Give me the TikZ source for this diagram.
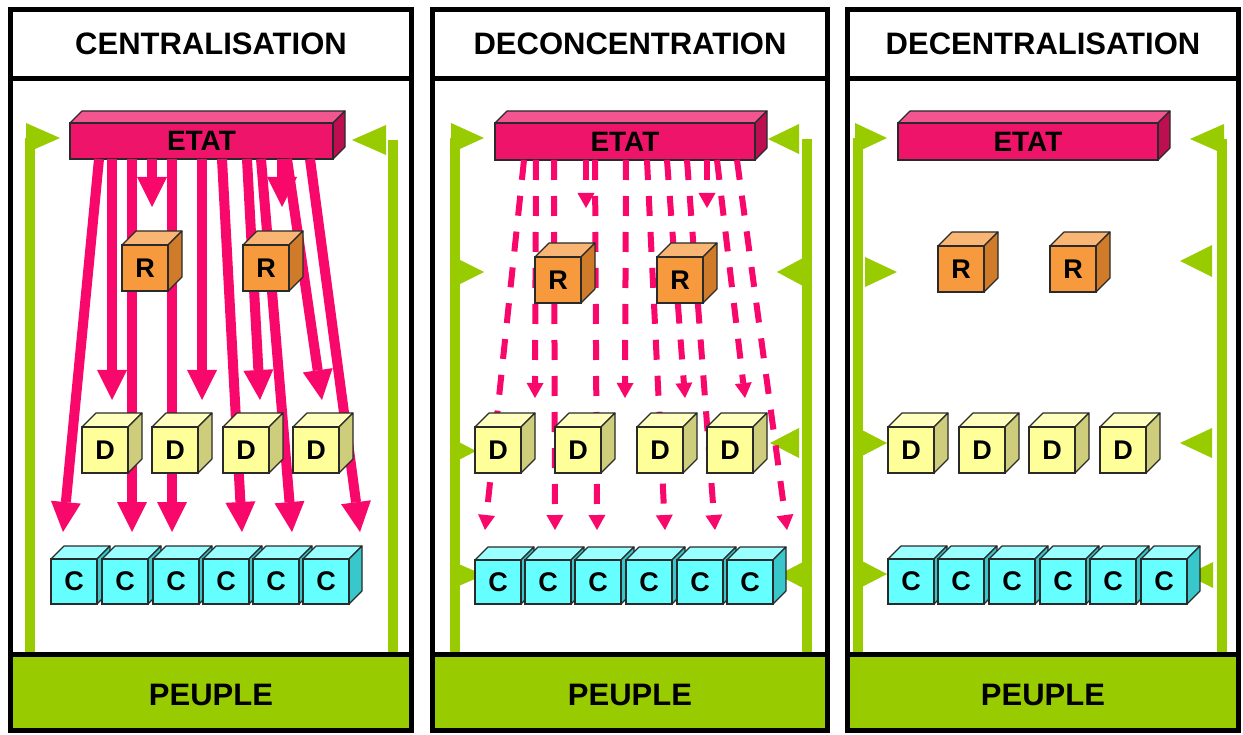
\documentclass[tikz,border=0pt]{standalone}
\usepackage{fontspec}
\setmainfont{Liberation Sans}
\usetikzlibrary{arrows.meta}

\definecolor{peuplegreen}{HTML}{99CC00}
\definecolor{arrowpink}{HTML}{F7086A}
\definecolor{etatfront}{HTML}{EE1469}
\definecolor{etattop}{HTML}{F25590}
\definecolor{etatside}{HTML}{BC0E50}
\definecolor{rfront}{HTML}{F79A3E}
\definecolor{rtop}{HTML}{F8B574}
\definecolor{rside}{HTML}{D07B2A}
\definecolor{dfront}{HTML}{FFFF99}
\definecolor{dtop}{HTML}{FFFFBE}
\definecolor{dside}{HTML}{CDCD7C}
\definecolor{cfront}{HTML}{66FFFF}
\definecolor{ctop}{HTML}{99FFFF}
\definecolor{cside}{HTML}{38C8CC}
\definecolor{edge}{HTML}{2A2A2A}

% #1 name, #2 x, #3 y (front top-left), #4 width, #5 height,
% #6 depth, #7 colour prefix, #8 label
\newcommand\solidbox[8]{%
  \filldraw[fill=#7top, draw=edge, line width=1.1pt, line join=round]
    (#2,#3) -- ++(#6,-#6) -- ++(#4,0) -- ++(-#6,#6) -- cycle;
  \filldraw[fill=#7side, draw=edge, line width=1.1pt, line join=round]
    (#2+#4,#3) -- ++(#6,-#6) -- ++(0,#5) -- ++(-#6,#6) -- cycle;
  \node[solidface, fill=#7front, minimum width=#4pt, minimum height=#5pt,
        anchor=north west] (#1) at (#2,#3) {#8};
}

% green feedback arrowhead: base x, tip x, centre y, half height
\newcommand\feedtip[4]{%
  \fill[peuplegreen] (#1,#3-#4) -- (#2,#3) -- (#1,#3+#4) -- cycle;
}

\begin{document}
\begin{tikzpicture}[x=1pt,y=-1pt,
  frame/.style={draw=black, line width=5pt},
  title/.style={font=\fontsize{31}{31}\selectfont\bfseries, text=black, inner sep=0pt},
  solidface/.style={draw=edge, line width=1.1pt, inner sep=0pt, outer sep=0pt,
    font=\fontsize{27}{27}\selectfont\bfseries, text=black},
  bigarrow/.style={draw=arrowpink, line width=10pt,
    -{Triangle[length=30pt,width=30pt,line width=0pt]}},
  dasharrow/.style={draw=arrowpink, line width=6pt, dash pattern=on 20pt off 16pt,
    -{Triangle[length=15pt,width=17pt,line width=0pt]}},
  feed/.style={draw=peuplegreen, line width=10pt}]

\useasboundingbox (0,0) rectangle (1243,735);
\fill[white] (0,0) rectangle (1243,735);

% ---------- people bands ----------
\fill[peuplegreen] (10.5,654.5) rectangle (411.5,730.5);
\fill[peuplegreen] (432.5,654.5) rectangle (827.5,730.5);
\fill[peuplegreen] (847.5,654.5) rectangle (1238.5,730.5);

% ---------- green feedback lines ----------
% centralisation
\draw[feed] (30,654) -- (30,138);
\draw[feed] (393,654) -- (393,140);
\feedtip{26}{60}{138}{15}
\feedtip{386}{352}{140}{15}
% deconcentration
\draw[feed] (455,654) -- (455,138);
\draw[feed] (807,654) -- (807,139);
\feedtip{451}{484}{138}{15}
\feedtip{456}{484}{272}{14}
\feedtip{453}{476}{451}{12}
\feedtip{454}{484}{575}{13}
\feedtip{799}{768}{139}{15}
\feedtip{803}{777}{272}{14}
\feedtip{799}{770}{443}{15}
\feedtip{803}{778}{575}{13}
% decentralisation
\draw[feed] (858,654) -- (858,138);
\draw[feed] (1222,654) -- (1222,139);
\feedtip{855}{887}{138}{15}
\feedtip{865}{897}{272}{15}
\feedtip{860}{887}{443}{14}
\feedtip{860}{887}{574}{14}
\feedtip{1224}{1190}{139}{15}
\feedtip{1212}{1180}{261}{16}
\feedtip{1212}{1180}{443}{15}
\feedtip{1213}{1187}{575}{13}

% ---------- CENTRALISATION ----------
\solidbox{etat1}{70}{123}{263}{36}{12}{etat}{\fontsize{28}{28}\selectfont ETAT}
\foreach \s/\e/\y in {99/63/532,132/132/532,172/172/532,222/242/532,261/292/532,310/360/532,
                      112/112/400,202/202/400,247/260/400,287/322/400,
                      152/152/207,282/282/207}
  \draw[bigarrow] (etat1.south -| \s,0) -- (\e,\y);
\solidbox{r11}{122}{245}{46}{46}{14}{r}{R}
\solidbox{r12}{243}{245}{46}{46}{14}{r}{R}
\solidbox{d11}{82}{427}{46}{46}{14}{d}{D}
\solidbox{d12}{152}{427}{46}{46}{14}{d}{D}
\solidbox{d13}{223}{427}{46}{46}{14}{d}{D}
\solidbox{d14}{293}{427}{46}{46}{14}{d}{D}
\solidbox{c11}{51}{559}{46}{45}{13}{c}{C}
\solidbox{c12}{102}{559}{46}{45}{13}{c}{C}
\solidbox{c13}{153}{559}{46}{45}{13}{c}{C}
\solidbox{c14}{203}{559}{46}{45}{13}{c}{C}
\solidbox{c15}{253}{559}{46}{45}{13}{c}{C}
\solidbox{c16}{303}{559}{46}{45}{13}{c}{C}

% ---------- DECONCENTRATION ----------
\solidbox{etat2}{495}{123}{260}{37}{12}{etat}{\fontsize{28}{28}\selectfont ETAT}
\foreach \s/\e/\y in {524/485/530,554/555/530,595/597/530,647/665/530,687/715/530,737/787/530,
                      536/535/398,626/625/398,667/685/398,717/745/398,
                      586/586/208,707/707/208}
  \draw[dasharrow] (etat2.south -| \s,0) -- (\e,\y);
\solidbox{r21}{535}{257}{46}{46}{14}{r}{R}
\solidbox{r22}{657}{257}{46}{46}{14}{r}{R}
\solidbox{d21}{475}{427}{46}{46}{14}{d}{D}
\solidbox{d22}{555}{427}{46}{46}{14}{d}{D}
\solidbox{d23}{637}{427}{46}{46}{14}{d}{D}
\solidbox{d24}{707}{427}{46}{46}{14}{d}{D}
\solidbox{c21}{475}{560}{46}{44}{13}{c}{C}
\solidbox{c22}{525}{560}{46}{44}{13}{c}{C}
\solidbox{c23}{575}{560}{46}{44}{13}{c}{C}
\solidbox{c24}{626}{560}{46}{44}{13}{c}{C}
\solidbox{c25}{677}{560}{46}{44}{13}{c}{C}
\solidbox{c26}{727}{560}{46}{44}{13}{c}{C}

% ---------- DECENTRALISATION ----------
\solidbox{etat3}{898}{123}{260}{37}{12}{etat}{\fontsize{28}{28}\selectfont ETAT}
\solidbox{r31}{938}{246}{46}{46}{14}{r}{R}
\solidbox{r32}{1050}{246}{46}{46}{14}{r}{R}
\solidbox{d31}{888}{427}{46}{46}{14}{d}{D}
\solidbox{d32}{959}{427}{46}{46}{14}{d}{D}
\solidbox{d33}{1029}{427}{46}{46}{14}{d}{D}
\solidbox{d34}{1100}{427}{46}{46}{14}{d}{D}
\solidbox{c31}{888}{559}{46}{45}{13}{c}{C}
\solidbox{c32}{938}{559}{46}{45}{13}{c}{C}
\solidbox{c33}{989}{559}{46}{45}{13}{c}{C}
\solidbox{c34}{1040}{559}{46}{45}{13}{c}{C}
\solidbox{c35}{1090}{559}{46}{45}{13}{c}{C}
\solidbox{c36}{1141}{559}{46}{45}{13}{c}{C}

% ---------- frames ----------
\draw[frame] (10.5,9.5) rectangle (411.5,730.5);
\draw[frame] (10.5,79) -- (411.5,79);
\draw[frame] (10.5,654.5) -- (411.5,654.5);
\draw[frame] (432.5,9.5) rectangle (827.5,730.5);
\draw[frame] (432.5,79) -- (827.5,79);
\draw[frame] (432.5,654.5) -- (827.5,654.5);
\draw[frame] (847.5,9.5) rectangle (1238.5,730.5);
\draw[frame] (847.5,79) -- (1238.5,79);
\draw[frame] (847.5,654.5) -- (1238.5,654.5);

% ---------- headings ----------
\node[title] (h1) at (211,44) {CENTRALISATION};
\node[title] (h2) at (630,44) {DECONCENTRATION};
\node[title] (h3) at (1043,44) {DECENTRALISATION};
\node[title] (p1) at (211,695) {PEUPLE};
\node[title] (p2) at (630,695) {PEUPLE};
\node[title] (p3) at (1043,695) {PEUPLE};
\end{tikzpicture}
\end{document}
